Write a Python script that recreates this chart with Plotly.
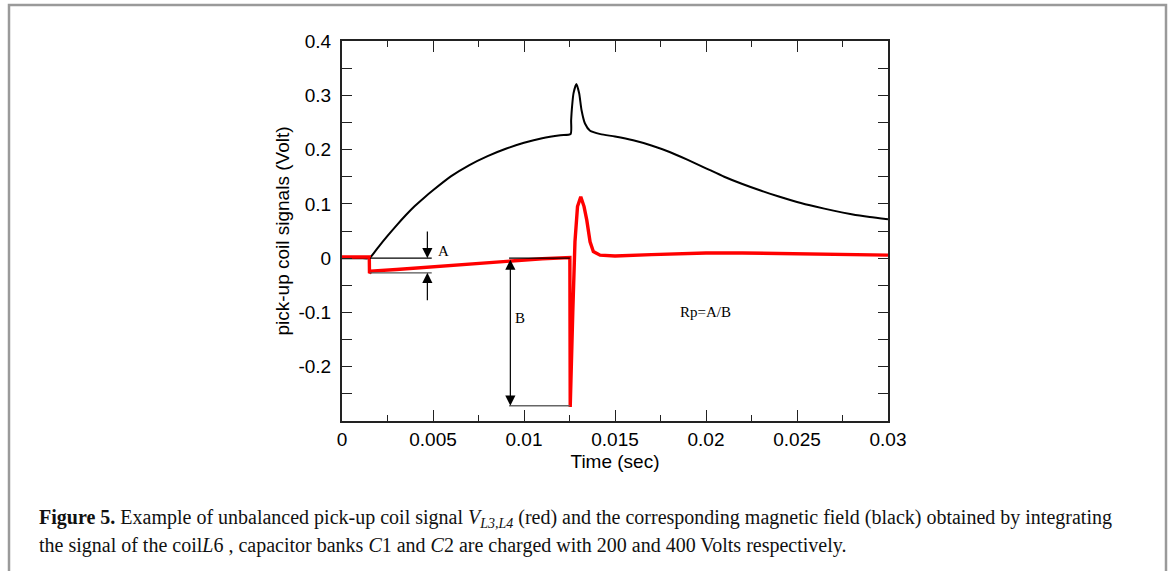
import plotly.graph_objects as go

# ---- data ----
black_t = [0.0, 0.0010, 0.0015, 0.0020, 0.0025, 0.0030, 0.0035, 0.0040, 0.0045, 0.0050,
           0.0060, 0.0070, 0.0080, 0.0090, 0.0100, 0.0110, 0.0120, 0.01256, 0.01259,
           0.01264, 0.01272, 0.01288, 0.01303, 0.01316, 0.01335, 0.01363, 0.0142, 0.0150,
           0.0160, 0.0170, 0.0180, 0.0190, 0.0200, 0.0210, 0.0220, 0.0230, 0.0240, 0.0250,
           0.0260, 0.0270, 0.0280, 0.0290, 0.0300]
black_v = [0.0, 0.0, 0.0, 0.0205, 0.041, 0.0605, 0.079, 0.096, 0.111, 0.125,
           0.151, 0.1715, 0.188, 0.2015, 0.2125, 0.2210, 0.2265, 0.2286, 0.254,
           0.279, 0.3036, 0.3207, 0.3036, 0.273, 0.248, 0.2347, 0.2285, 0.2240,
           0.2170, 0.2075, 0.1955, 0.1810, 0.1655, 0.1500, 0.1365, 0.1245, 0.1135, 0.1035,
           0.0950, 0.0875, 0.0810, 0.0758, 0.0715]

red_t = [0.0, 0.0015, 0.00151, 0.0016, 0.0030, 0.0050, 0.0070, 0.0093, 0.0110, 0.01252,
         0.01254, 0.01268, 0.01280, 0.01294, 0.01312, 0.01330, 0.01345, 0.01363, 0.01381,
         0.01418, 0.0150, 0.0170, 0.0200, 0.0220, 0.0250, 0.0280, 0.0300]
red_v = [0.002, 0.002, -0.028, -0.024, -0.021, -0.016, -0.0105, -0.004, -0.001, 0.001,
         -0.274, -0.10, 0.03, 0.095, 0.113, 0.095, 0.07, 0.03, 0.012,
         0.0055, 0.004, 0.0065, 0.0095, 0.0095, 0.0075, 0.006, 0.0055]

# annotation geometry (data units)
a_x0, a_x1, a_arrow_x = 0.00154, 0.00493, 0.00469
a_top, a_bottom = 0.0, -0.027
a_arrow_top_tail, a_arrow_bottom_tail = 0.052, -0.0805
b_x0, b_x1, b_arrow_x = 0.00918, 0.01252, 0.00925
b_top, b_bottom = 0.0, -0.272

x_ticks = [0, 0.005, 0.01, 0.015, 0.02, 0.025, 0.03]
x_tick_text = ["0", "0.005", "0.01", "0.015", "0.02", "0.025", "0.03"]
y_ticks = [-0.2, -0.1, 0, 0.1, 0.2, 0.3, 0.4]
y_tick_text = ["-0.2", "-0.1", "0", "0.1", "0.2", "0.3", "0.4"]

caption_1 = ("<b>Figure 5.</b> Example of unbalanced pick-up coil signal <i>V</i><sub><i>L3,L4</i></sub> (red) "
             "and the corresponding magnetic field (black) obtained by integrating")
caption_2 = ("the signal of the coil<i>L</i>6 , capacitor banks <i>C</i>1 and <i>C</i>2 are charged "
             "with 200 and 400 Volts respectively.")

W, H = 1171, 571
L, R, T, B = 342, 283, 41, 150
pw, ph = W - L - R, H - T - B


def px(xp):
    return (xp - L) / pw


def py(yp):
    return (H - B - yp) / ph


serif = "Liberation Serif, Times New Roman, serif"

fig = go.Figure()
fig.add_trace(go.Scatter(x=black_t, y=black_v, mode="lines",
                         line=dict(color="black", width=2, shape="spline", smoothing=0.6),
                         showlegend=False))
fig.add_trace(go.Scatter(x=red_t, y=red_v, mode="lines",
                         line=dict(color="#ff0000", width=3.4), showlegend=False))

shapes = [
    dict(type="line", xref="x", yref="y", x0=a_x0, x1=a_x1, y0=a_top, y1=a_top,
         line=dict(color="black", width=1.2)),
    dict(type="line", xref="x", yref="y", x0=a_x0, x1=a_x1, y0=a_bottom, y1=a_bottom,
         line=dict(color="#555555", width=1.2)),
    dict(type="line", xref="x", yref="y", x0=b_x0, x1=b_x1, y0=b_top, y1=b_top,
         line=dict(color="black", width=1.2)),
    dict(type="line", xref="x", yref="y", x0=b_x0, x1=b_x1, y0=b_bottom, y1=b_bottom,
         line=dict(color="#666666", width=1.4)),
    # outer frame
    dict(type="rect", xref="paper", yref="paper", x0=px(9), x1=px(1166), y0=py(5), y1=py(620),
         line=dict(color="#9a9a9a", width=2.5), fillcolor="rgba(0,0,0,0)", layer="below"),
]

arrow_common = dict(xref="x", yref="y", axref="x", ayref="y", showarrow=True, arrowhead=2,
                    arrowsize=1.7, arrowwidth=1.2, arrowcolor="black", text="")
annotations = [
    dict(x=a_arrow_x, y=a_top, ax=a_arrow_x, ay=a_arrow_top_tail, **arrow_common),
    dict(x=a_arrow_x, y=a_bottom, ax=a_arrow_x, ay=a_arrow_bottom_tail, **arrow_common),
    dict(x=b_arrow_x, y=b_bottom, ax=b_arrow_x, ay=b_top, startarrowhead=2,
         arrowside="end+start", startarrowsize=1.7, **arrow_common),
    dict(x=0.00558, y=0.0135, xref="x", yref="y", text="A", showarrow=False,
         font=dict(family=serif, size=15, color="black")),
    dict(x=0.00978, y=-0.111, xref="x", yref="y", text="B", showarrow=False,
         font=dict(family=serif, size=15, color="black")),
    dict(x=0.01995, y=-0.099, xref="x", yref="y", text="Rp=A/B", showarrow=False,
         font=dict(family=serif, size=15, color="black")),
    dict(x=px(37), y=py(518), xref="paper", yref="paper", xanchor="left", yanchor="middle",
         text=caption_1, showarrow=False, align="left",
         font=dict(family=serif, size=20, color="#111111")),
    dict(x=px(37), y=py(545), xref="paper", yref="paper", xanchor="left", yanchor="middle",
         text=caption_2, showarrow=False, align="left",
         font=dict(family=serif, size=20, color="#111111")),
]

axis_font = dict(family="Liberation Sans, Arial, sans-serif", size=19, color="black")

fig.update_layout(
    width=W, height=H,
    margin=dict(l=L, r=R, t=T, b=B, pad=0),
    paper_bgcolor="white", plot_bgcolor="white",
    shapes=shapes, annotations=annotations,
    xaxis=dict(range=[0, 0.03], tickvals=x_ticks, ticktext=x_tick_text,
               ticks="inside", ticklen=11, tickwidth=1.3, tickcolor="#222",
               minor=dict(tickvals=[0.0025, 0.0075, 0.0125, 0.0175, 0.0225, 0.0275],
                          ticks="inside", ticklen=6, tickwidth=1.3, tickcolor="#222"),
               showline=True, linecolor="#222", linewidth=2, mirror="allticks",
               showgrid=False, zeroline=False, tickfont=axis_font, ticklabelstandoff=0,
               title=dict(text="Time (sec)", font=axis_font, standoff=6)),
    yaxis=dict(range=[-0.3, 0.4], tickvals=y_ticks, ticktext=y_tick_text,
               ticks="inside", ticklen=10, tickwidth=1.3, tickcolor="#222",
               minor=dict(tickvals=[-0.25, -0.15, -0.05, 0.05, 0.15, 0.25, 0.35],
                          ticks="inside", ticklen=10, tickwidth=1.3, tickcolor="#222"),
               showline=True, linecolor="#222", linewidth=2, mirror="allticks",
               showgrid=False, zeroline=False, tickfont=axis_font, ticklabelstandoff=5,
               title=dict(text="pick-up coil signals (Volt)", font=axis_font, standoff=4)),
)

fig.write_html("out.html", config={"displayModeBar": False},
               post_script="document.body.style.margin='0';")
